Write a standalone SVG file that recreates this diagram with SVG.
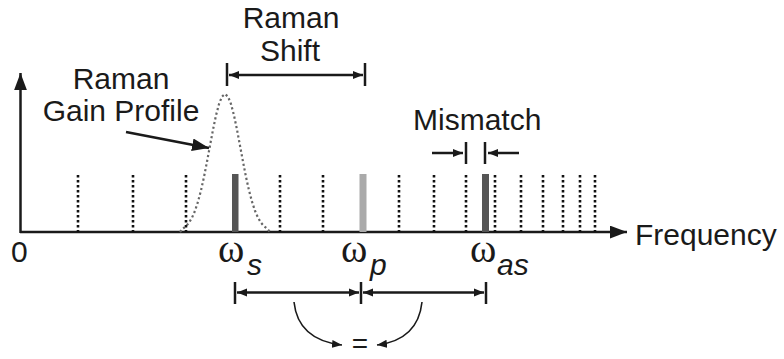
<svg xmlns="http://www.w3.org/2000/svg" width="784" height="359" viewBox="0 0 784 359">
<defs>
<style>
.t{font-family:"Liberation Sans",Arial,sans-serif;font-size:30px;fill:#1a1a1a}
.w{font-family:"Liberation Serif","Times New Roman",serif;font-size:40px;fill:#1a1a1a}
.sub{font-family:"Liberation Sans",Arial,sans-serif;font-size:30px;font-style:italic;fill:#1a1a1a}
.ln{stroke:#1a1a1a;stroke-width:2.5;fill:none}
.dot{stroke:#111;stroke-width:2.6;stroke-dasharray:2.6,2.4;fill:none}
</style>
<marker id="ah" viewBox="0 0 10 10" refX="10" refY="5" markerWidth="10" markerHeight="10" markerUnits="userSpaceOnUse" orient="auto-start-reverse">
<path d="M0,1 L10,5 L0,9 Z" fill="#1a1a1a"/>
</marker>
<marker id="ahBig" viewBox="0 0 16 12" refX="16" refY="6" markerWidth="17" markerHeight="13" markerUnits="userSpaceOnUse" orient="auto">
<path d="M0,0 L16,6 L0,12 Z" fill="#1a1a1a"/>
</marker>
</defs>
<rect width="784" height="359" fill="#ffffff"/>

<g id="axes">
<line class="ln" x1="20" y1="232" x2="627" y2="232" marker-end="url(#ahBig)"/>
<line class="ln" x1="20.5" y1="233" x2="20.5" y2="73" marker-end="url(#ahBig)"/>
<text class="t" x="11" y="262">0</text>
<text class="t" x="635" y="245">Frequency</text>
</g>

<g id="comb">
<line class="dot" x1="78" y1="175" x2="78" y2="232"/>
<line class="dot" x1="133" y1="175" x2="133" y2="232"/>
<line class="dot" x1="186" y1="175" x2="186" y2="232"/>
<line class="dot" x1="280" y1="175" x2="280" y2="232"/>
<line class="dot" x1="323" y1="175" x2="323" y2="232"/>
<line class="dot" x1="399" y1="175" x2="399" y2="232"/>
<line class="dot" x1="434" y1="175" x2="434" y2="232"/>
<line class="dot" x1="466" y1="175" x2="466" y2="232"/>
<line class="dot" x1="495" y1="175" x2="495" y2="232"/>
<line class="dot" x1="521" y1="175" x2="521" y2="232"/>
<line class="dot" x1="543" y1="175" x2="543" y2="232"/>
<line class="dot" x1="563" y1="175" x2="563" y2="232"/>
<line class="dot" x1="580" y1="175" x2="580" y2="232"/>
<line class="dot" x1="595" y1="175" x2="595" y2="232"/>
</g>

<g id="gain-profile">
<polyline fill="none" stroke="#666" stroke-width="2.2" stroke-dasharray="2.2,2.6" points="180,232 183,228.5 186,226.2 189,222.7 192,217.7 195,210.8 198,201.7 201,190.4 204,176.9 207,161.7 210,145.6 213,129.7 216,115.4 219,104 222,96.6 225,94 228,96.6 231,104 234,115.4 237,129.7 240,145.6 243,161.7 246,176.9 249,190.4 252,201.7 255,210.8 258,217.7 261,222.7 264,226.2 267,228.5 270,232"/>
<text class="t" x="121" y="89" text-anchor="middle">Raman</text>
<text class="t" x="121" y="121" text-anchor="middle">Gain Profile</text>
<line x1="126" y1="132" x2="209" y2="148" stroke="#1a1a1a" stroke-width="2.5" marker-end="url(#ahBig)"/>
</g>

<g id="ws">
<rect x="232" y="174" width="6.5" height="58" fill="#555"/>
<text class="w" x="218" y="262">ω</text>
<text class="sub" x="247" y="275">s</text>
</g>
<g id="wp">
<rect x="359.5" y="174" width="7" height="58" fill="#aaa"/>
<text class="w" x="341" y="262">ω</text>
<text class="sub" x="370" y="275">p</text>
</g>
<g id="was">
<rect x="482" y="174" width="7" height="58" fill="#555"/>
<text class="w" x="470" y="262">ω</text>
<text class="sub" x="497" y="275">as</text>
</g>

<g id="raman-shift">
<text class="t" x="291" y="28" text-anchor="middle">Raman</text>
<text class="t" x="290" y="61" text-anchor="middle">Shift</text>
</g>
<g id="mismatch">
<text class="t" x="413" y="130">Mismatch</text>
</g>

<g id="connectors">
<line class="ln" x1="227" y1="63" x2="227" y2="86"/>
<line class="ln" x1="365" y1="63" x2="365" y2="86"/>
<line class="ln" x1="229" y1="75" x2="363" y2="75" marker-start="url(#ah)" marker-end="url(#ah)"/>

<line class="ln" x1="466" y1="142" x2="466" y2="164"/>
<line class="ln" x1="485" y1="142" x2="485" y2="164"/>
<line class="ln" x1="432" y1="153" x2="463" y2="153" marker-end="url(#ah)"/>
<line class="ln" x1="519" y1="153" x2="488" y2="153" marker-end="url(#ah)"/>

<line class="ln" x1="235" y1="282" x2="235" y2="304"/>
<line class="ln" x1="361" y1="282" x2="361" y2="304"/>
<line class="ln" x1="486" y1="282" x2="486" y2="304"/>
<line class="ln" x1="237" y1="292.5" x2="359" y2="292.5" marker-start="url(#ah)" marker-end="url(#ah)"/>
<line class="ln" x1="363" y1="292.5" x2="484" y2="292.5" marker-start="url(#ah)" marker-end="url(#ah)"/>

<path d="M294,302 Q298,340 342,345" stroke="#1a1a1a" stroke-width="1.6" fill="none" marker-end="url(#ah)"/>
<path d="M422,302 Q418,340 377,345" stroke="#1a1a1a" stroke-width="1.6" fill="none" marker-end="url(#ah)"/>
<text class="t" x="360" y="353" text-anchor="middle" style="font-size:28px">=</text>
</g>
</svg>
